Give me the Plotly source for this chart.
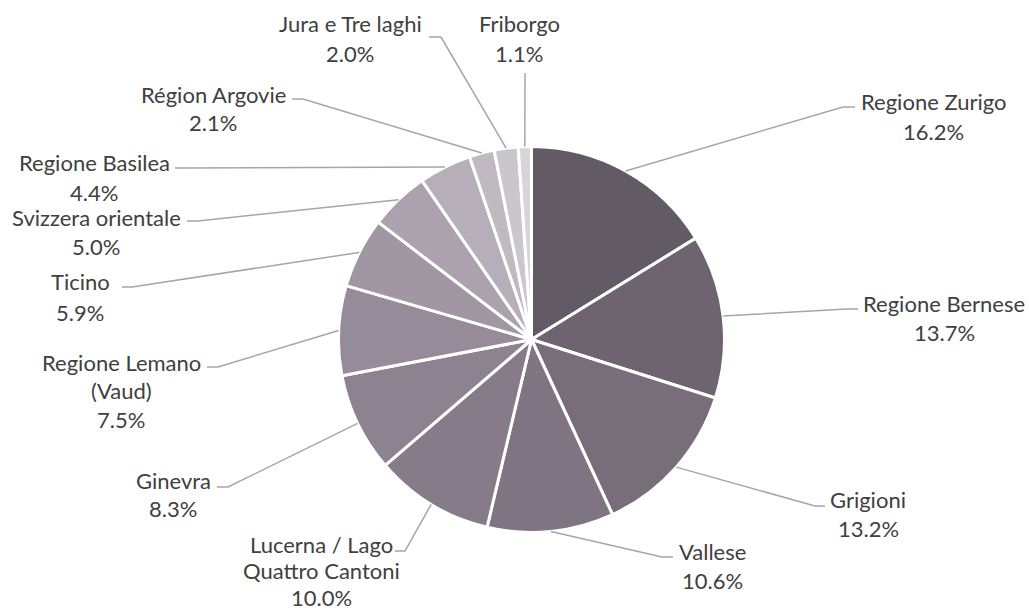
import math
import plotly.graph_objects as go

# ---- data ----
regions = ["Regione Zurigo", "Regione Bernese", "Grigioni", "Vallese",
           "Lucerna / Lago\nQuattro Cantoni", "Ginevra", "Regione Lemano\n(Vaud)",
           "Ticino", "Svizzera orientale", "Regione Basilea", "Région Argovie",
           "Jura e Tre laghi", "Friborgo"]
shares = [16.2, 13.7, 13.2, 10.6, 10.0, 8.3, 7.5, 5.9, 5.0, 4.4, 2.1, 2.0, 1.1]
colors = ["#625a65", "#6e646f", "#786e7a", "#7f7482", "#867b88", "#8d8290",
          "#968b98", "#a097a3", "#aba2ad", "#b6aeb8", "#c0b9c2", "#cbc6cd", "#d8d4da"]

# ---- layout (pixel positions of labels and leader-line elbows) ----
W, H = 1029, 612
CX, CY, R = 531.5, 339.5, 193
label_center = [(933, 102), (944, 303), (868, 499), (712, 551), (321, 544), (173, 480),
                (121, 362), (80, 282), (96, 217), (94, 163), (213, 94), (350, 24), (519, 24)]
label_line_h = [29, 29, 29, 29, 26.5, 28, 28.5, 30, 29, 29, 29, 29, 29]
stub_text_end = [(855, 107), (858, 309), (825, 506), (673, 557), (395, 551), (217, 487),
                 (207, 367), (122, 287), (187, 221), (175, 168), (292, 99), (429, 37), (525, 73)]
stub_elbow = [(843, 107), (847, 309), (815, 506), (662, 557), (405, 551), (228, 487),
              (218, 367), (132, 287), (198, 221), (186, 168), (303, 99), (441, 37), (525, 73)]
FONT = dict(family="Lato, 'Open Sans', sans-serif", size=22, color="#404040")


def px(x):
    return x / W


def py(y):
    return 1 - y / H


fig = go.Figure()
fig.add_trace(go.Pie(
    labels=[r.replace("\n", " ") for r in regions],
    values=shares,
    sort=False,
    direction="clockwise",
    rotation=0,
    textinfo="none",
    hoverinfo="label+percent",
    marker=dict(colors=colors, line=dict(color="white", width=3)),
    domain=dict(x=[px(CX - R), px(CX + R)], y=[py(CY + R), py(CY - R)]),
    showlegend=False,
))

annotations = []
shapes = []
total = sum(shares)
cum = 0.0
for i, (name, val) in enumerate(zip(regions, shares)):
    mid = (cum + val / 2) / total * 2 * math.pi
    cum += val
    sx = CX + R * math.sin(mid)
    sy = CY - R * math.cos(mid)
    ex, ey = stub_elbow[i]
    tx, ty = stub_text_end[i]
    path = f"M {px(sx)} {py(sy)} L {px(ex)} {py(ey)} L {px(tx)} {py(ty)}"
    shapes.append(dict(type="path", xref="paper", yref="paper", path=path,
                       line=dict(color="#a6a6a6", width=1.5)))
    lines = name.split("\n") + [f"{val:.1f}%"]
    cx, cy = label_center[i]
    for k, t in enumerate(lines):
        annotations.append(dict(x=px(cx), y=py(cy + k * label_line_h[i]), xref="paper", yref="paper",
                                text=t, showarrow=False, xanchor="center", yanchor="middle",
                                font=FONT))

fig.update_layout(
    width=W, height=H,
    margin=dict(l=0, r=0, t=0, b=0),
    paper_bgcolor="white", plot_bgcolor="white",
    annotations=annotations, shapes=shapes,
)
fig.write_html("out.html", config={"displayModeBar": False},
               post_script="document.body.style.margin='0';document.body.style.overflow='hidden';")
